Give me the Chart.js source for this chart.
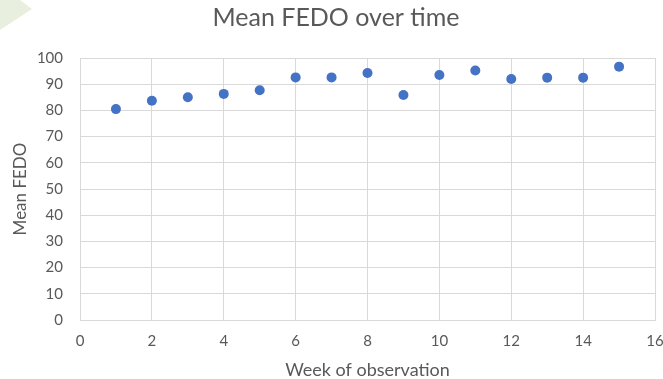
<!DOCTYPE html>
<html>
<head>
<meta charset="utf-8">
<script src="https://cdn.jsdelivr.net/npm/chart.js@4/dist/chart.umd.min.js"></script>
<style>
    html, body { margin: 0; padding: 0; background: #fff; }
    #wrap { position: relative; width: 663px; height: 379px; }
    #corner {
        position: absolute; left: 0; top: 0; width: 40px; height: 40px;
        background: #e9efdf;
        clip-path: polygon(0 0, 20px 0, 32px 9px, 0 30px);
    }
    canvas { position: absolute; left: 0; top: 0; }
</style>
</head>
<body>
<div id="wrap">
    <div id="corner"></div>
    <canvas id="graphic__fedo" width="663" height="379"></canvas>
</div>
<script>
const weeks = [1, 2, 3, 4, 5, 6, 7, 8, 9, 10, 11, 12, 13, 14, 15];
const meanFedo = [80.5, 83.7, 85.0, 86.3, 87.7, 92.6, 92.6, 94.3, 85.9, 93.5, 95.2, 92.0, 92.5, 92.5, 96.7];
const xTicks = [0, 2, 4, 6, 8, 10, 12, 14, 16];
const yTicks = [0, 10, 20, 30, 40, 50, 60, 70, 80, 90, 100];

const points = [];
weeks.forEach((w, i) => {
    points.push({ x: w, y: meanFedo[i] });
});

const fontFamily = 'Lato, "Open Sans", sans-serif';
const gray = '#595959';
const gridColor = '#d9d9d9';

const ctx = document.querySelector('#graphic__fedo').getContext('2d');
const config = {
    type: 'scatter',
    data: {
        datasets: [
            {
                label: 'Mean FEDO',
                data: points,
                backgroundColor: '#4472c4',
                borderColor: '#4472c4',
                borderWidth: 0,
                pointRadius: 5,
                pointHoverRadius: 5,
            }
        ]
    },
    options: {
        responsive: false,
        animation: false,
        layout: {
            padding: { left: 9, right: 0, top: 0, bottom: 0 }
        },
        plugins: {
            title: {
                display: true,
                text: 'Mean FEDO over time',
                color: gray,
                font: { size: 25, family: fontFamily, weight: 'normal' },
                padding: { top: 3, bottom: 25 }
            },
            legend: { display: false },
            tooltip: { enabled: false }
        },
        scales: {
            x: {
                type: 'linear',
                min: 0,
                max: 16,
                afterBuildTicks: (axis) => {
                    axis.ticks = xTicks.map(v => ({ value: v }));
                },
                afterFit: (axis) => {
                    axis.height = 59;
                    axis.paddingLeft = 0;
                    axis.paddingRight = 8;
                },
                grid: {
                    color: gridColor,
                    tickLength: 0,
                },
                border: { color: gridColor },
                ticks: {
                    color: gray,
                    padding: 12,
                    font: { size: 15, family: fontFamily }
                },
                title: {
                    display: true,
                    text: 'Week of observation',
                    color: gray,
                    font: { size: 18, family: fontFamily, lineHeight: 1 },
                    padding: { top: 11, bottom: 0 }
                }
            },
            y: {
                type: 'linear',
                min: 0,
                max: 100,
                afterBuildTicks: (axis) => {
                    axis.ticks = yTicks.map(v => ({ value: v }));
                },
                afterFit: (axis) => {
                    axis.width = 71;
                },
                grid: {
                    color: gridColor,
                    tickLength: 0,
                },
                border: { color: gridColor },
                ticks: {
                    color: gray,
                    padding: 17,
                    font: { size: 15, family: fontFamily }
                },
                title: {
                    display: true,
                    text: 'Mean FEDO',
                    color: gray,
                    font: { size: 17, family: fontFamily },
                    padding: { top: 1, bottom: 8 }
                }
            }
        }
    }
};
const myChart = new Chart(ctx, config);
</script>
</body>
</html>
